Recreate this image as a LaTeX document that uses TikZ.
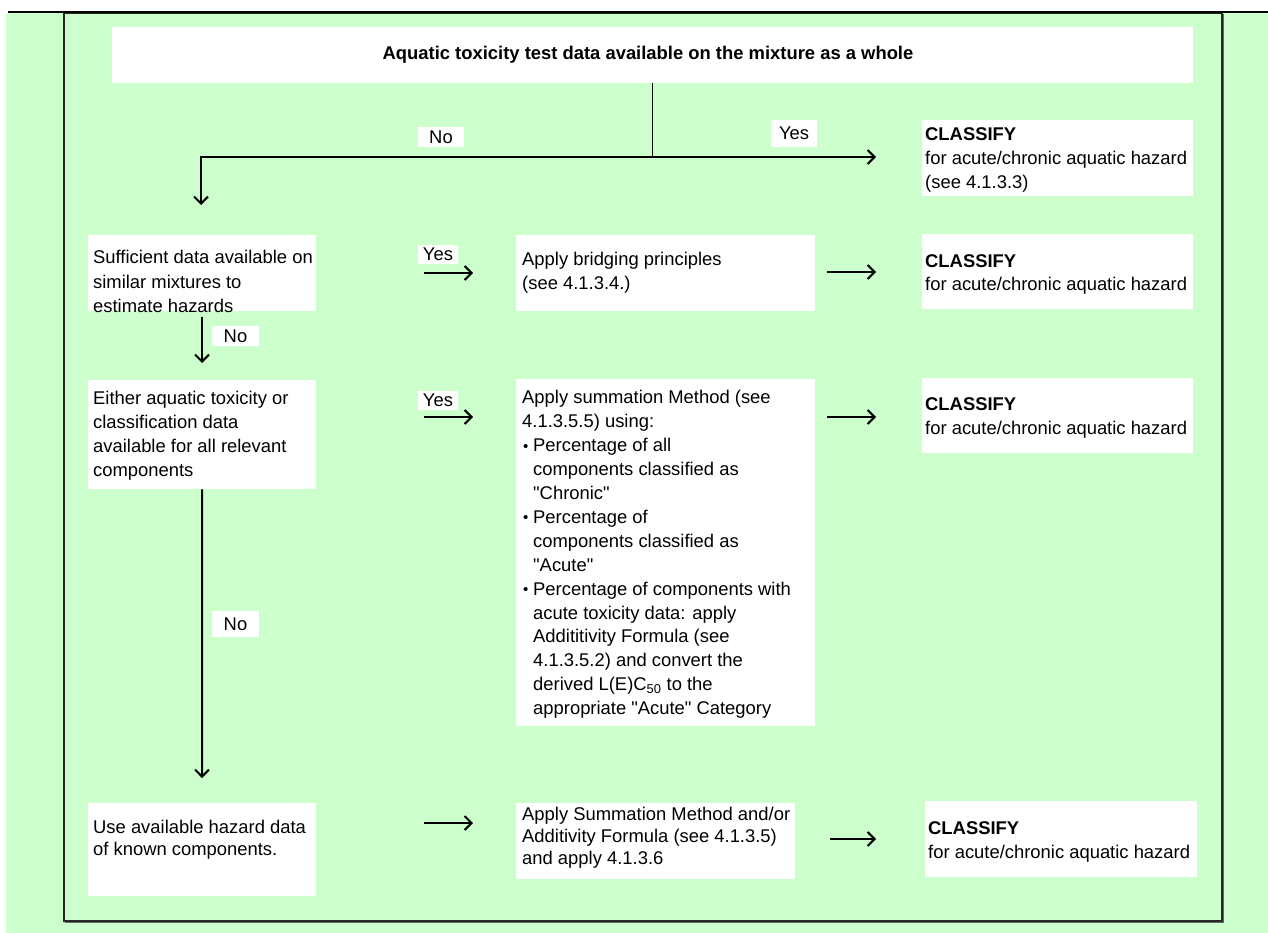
\documentclass[tikz,border=0pt]{standalone}
\usepackage{fontspec}
\setmainfont{Liberation Sans}[Ligatures=TeXOff]
\usetikzlibrary{arrows.meta}
\definecolor{bg}{HTML}{CCFFCC}
\newcommand\wbox[5]{\node[wb,anchor=north west,minimum width=#4pt,minimum height=#5pt] (#1) at (#2,#3) {};}
\newcommand\bul{\hspace*{1pt}\makebox[10pt][l]{\raisebox{0.5pt}{\fontsize{15}{15}\selectfont\textbullet}}}
\newcommand\ind{\hspace*{11pt}}
\begin{document}
\begin{tikzpicture}[x=1pt,y=-1pt,
  wb/.style={fill=white, inner sep=0pt},
  txt/.style={anchor=north west, inner sep=0pt, align=left, font=\fontsize{18.4}{24}\selectfont},
  lab/.style={fill=white, inner sep=0pt, font=\fontsize{18.4}{20}\selectfont},
  arr/.style={line width=2pt, -{Straight Barb[length=7pt,width=14pt]}},
  thinln/.style={line width=1pt}]
\useasboundingbox (0,0) rectangle (1268,933);
% background and frame
\fill[bg] (6,13) rectangle (1268,933);
\draw[line width=1.2pt, black!85] (64,13) rectangle (1222,921);
\draw[line width=1pt, black!60] (1223.5,14) -- (1223.5,922.5) -- (65,922.5);
\draw[line width=2.5pt] (8,12) -- (1268,12);
% boxes
\wbox{top}{112}{27}{1081}{56}
\wbox{c1}{922}{120}{271}{76}
\wbox{a2}{88}{235}{228}{76}
\wbox{b2}{516}{235}{299}{76}
\wbox{c2}{922}{234}{271}{75}
\wbox{a3}{88}{380}{228}{109}
\wbox{b3}{516}{379}{299}{347}
\wbox{c3}{922}{378}{271}{75}
\wbox{a4}{88}{803}{228}{93}
\wbox{b4}{516}{803}{279}{76}
\wbox{c4}{925}{801}{272}{76}
% texts
\node[font=\bfseries\fontsize{18.4}{24}\selectfont] (toptxt) at (648,55) {Aquatic toxicity test data available on the mixture as a whole};
\node[txt] (c1t) at (925,124) {\strut\textbf{CLASSIFY}\\for acute/chronic aquatic hazard\\(see 4.1.3.3)};
\node[txt] (a2t) at (93,247) {\strut Sufficient data available on\\similar mixtures to\\estimate hazards};
\node[txt] (b2t) at (522,248) {\strut Apply bridging principles\\(see 4.1.3.4.)};
\node[txt] (c2t) at (925,250) {\strut\textbf{CLASSIFY}\\for acute/chronic aquatic hazard};
\node[txt] (a3t) at (93,387) {\strut Either aquatic toxicity or\\classification data\\available for all relevant\\components};
\node[txt,font=\fontsize{18.4}{23.9}\selectfont] (b3t) at (522,387) {\strut Apply summation Method (see\\
4.1.3.5.5) using:\\
\bul Percentage of all\\
\ind components classified as\\
\ind "Chronic"\\
\bul Percentage of\\
\ind components classified as\\
\ind "Acute"\\
\bul Percentage of components with\\
\ind acute toxicity data: apply\\
\ind Addititivity Formula (see\\
\ind 4.1.3.5.2) and convert the\\
\ind derived L(E)C\textsubscript{50} to the\\
\ind appropriate "Acute" Category};
\node[txt] (c3t) at (925,393) {\strut\textbf{CLASSIFY}\\for acute/chronic aquatic hazard};
\node[txt,font=\fontsize{18.4}{22}\selectfont] (a4t) at (93,818) {\strut Use available hazard data\\of known components.};
\node[txt,font=\fontsize{18.4}{22}\selectfont] (b4t) at (522,805) {\strut Apply Summation Method and/or\\Additivity Formula (see 4.1.3.5)\\and apply 4.1.3.6};
\node[txt] (c4t) at (928,817) {\strut\textbf{CLASSIFY}\\for acute/chronic aquatic hazard};
% labels
\node[lab,minimum width=46pt,minimum height=20pt] (n1) at (441,137) {No};
\node[lab,minimum width=46pt,minimum height=27pt] (y1) at (794,133.5) {Yes};
\node[lab,minimum width=40pt,minimum height=19pt] (y2) at (438,254.5) {Yes};
\node[lab,minimum width=47pt,minimum height=20pt] (n2) at (235.5,336) {No};
\node[lab,minimum width=40pt,minimum height=19pt] (y3) at (438,400.5) {Yes};
\node[lab,minimum width=47pt,minimum height=26pt] (n3) at (235.5,624) {No};
% connector points
\coordinate (j) at (652,157);
\coordinate (jl) at (201,157);
\coordinate (t1) at (876,157);
\coordinate (d1) at (201,205);
\coordinate (r2s) at (424,273);
\coordinate (r2e) at (473,273);
\coordinate (r2s2) at (827,272);
\coordinate (r2e2) at (876,272);
\coordinate (v2s) at (202,317);
\coordinate (v2e) at (202,363);
\coordinate (r3s) at (424,417);
\coordinate (r3e) at (473,417);
\coordinate (r3s2) at (827,417);
\coordinate (r3e2) at (876,417);
\coordinate (v3e) at (202,778);
\coordinate (r4s) at (424,823);
\coordinate (r4e) at (473,823);
\coordinate (r4s2) at (830,839);
\coordinate (r4e2) at (876,839);
% connectors
\draw[thinln] (top.south -| j) -- (j);
\draw[arr] (j) -- (t1);
\draw[arr] (j) -- (jl) -- (d1);
\draw[arr] (r2s) -- (r2e);
\draw[arr] (r2s2) -- (r2e2);
\draw[arr] (v2s) -- (v2e);
\draw[arr] (r3s) -- (r3e);
\draw[arr] (r3s2) -- (r3e2);
\draw[arr] (a3.south) -- (v3e);
\draw[arr] (r4s) -- (r4e);
\draw[arr] (r4s2) -- (r4e2);
\end{tikzpicture}
\end{document}
